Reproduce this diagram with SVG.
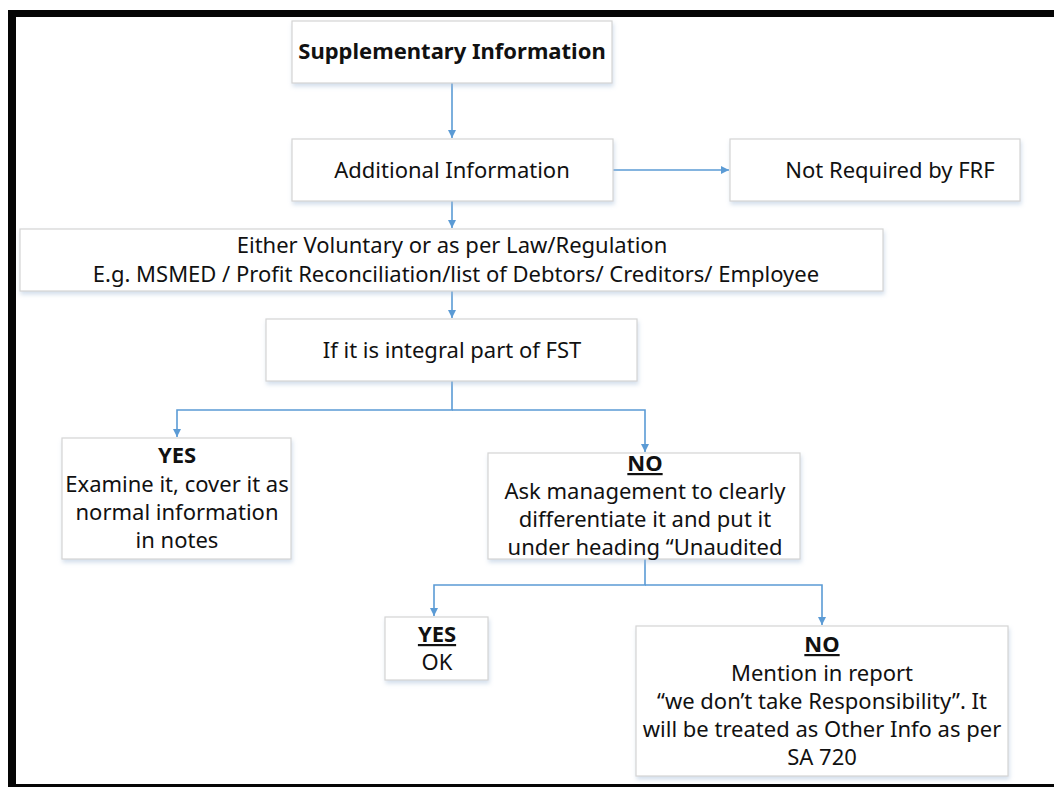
<svg xmlns="http://www.w3.org/2000/svg" width="1054" height="787" viewBox="0 0 1054 787">
<defs>
<style>
.box{fill:#ffffff;stroke:#d4d4d4;stroke-width:1.2;filter:url(#sh)}
.t{font-family:"Noto Sans","Open Sans","DejaVu Sans",sans-serif;font-size:22px;fill:#111;text-anchor:middle}
.b{font-weight:bold}
.u{text-decoration:underline}
.c{fill:none;stroke:#5b9bd5;stroke-width:1.6}
</style>
<filter id="sh" x="-5%" y="-10%" width="110%" height="125%">
<feDropShadow dx="1" dy="3" stdDeviation="2" flood-color="#9fb8d6" flood-opacity="0.45"/>
</filter>
<marker id="ar" viewBox="0 0 10 10" refX="10" refY="5" markerWidth="8" markerHeight="8" markerUnits="userSpaceOnUse" orient="auto">
<path d="M0,0 L10,5 L0,10 z" fill="#5b9bd5"/>
</marker>
</defs>
<rect x="0" y="0" width="1054" height="787" fill="#ffffff"/>
<g id="frame" fill="#050505">
<rect x="8" y="10" width="1046" height="7"/>
<rect x="8" y="10" width="8" height="777"/>
<rect x="8" y="784" width="1046" height="3"/>
</g>
<g id="connectors">
<line class="c" x1="452" y1="83" x2="452" y2="138" marker-end="url(#ar)"/>
<line class="c" x1="613" y1="170" x2="729" y2="170" marker-end="url(#ar)"/>
<line class="c" x1="452" y1="201" x2="452" y2="228" marker-end="url(#ar)"/>
<line class="c" x1="452" y1="291" x2="452" y2="318" marker-end="url(#ar)"/>
<polyline class="c" points="452,381 452,410 177,410 177,437" marker-end="url(#ar)"/>
<polyline class="c" points="452,410 645,410 645,452" marker-end="url(#ar)"/>
<polyline class="c" points="645,559 645,585 434,585 434,616" marker-end="url(#ar)"/>
<polyline class="c" points="645,585 822,585 822,625" marker-end="url(#ar)"/>
</g>
<g id="n1">
<rect class="box" x="292" y="21" width="320" height="62"/>
<text class="t b" x="452" y="59">Supplementary Information</text>
</g>
<g id="n2">
<rect class="box" x="292" y="139" width="321" height="62"/>
<text class="t" x="452" y="178">Additional Information</text>
</g>
<g id="n3">
<rect class="box" x="730" y="139" width="290" height="62"/>
<text class="t" x="890" y="178">Not Required by FRF</text>
</g>
<g id="n4">
<rect class="box" x="20" y="229" width="863" height="62"/>
<text class="t" x="452" y="253">Either Voluntary or as per Law/Regulation</text>
<text class="t" x="456" y="282">E.g. MSMED / Profit Reconciliation/list of Debtors/ Creditors/ Employee</text>
</g>
<g id="n5">
<rect class="box" x="266" y="319" width="371" height="62"/>
<text class="t" x="452" y="358">If it is integral part of FST</text>
</g>
<g id="n6">
<rect class="box" x="62" y="438" width="229" height="121"/>
<text class="t b" x="177" y="463">YES</text>
<text class="t" x="177" y="492">Examine it, cover it as</text>
<text class="t" x="177" y="520">normal information</text>
<text class="t" x="177" y="548">in notes</text>
</g>
<g id="n7">
<rect class="box" x="488" y="453" width="312" height="106"/>
<text class="t b u" x="645" y="471">NO</text>
<text class="t" x="645" y="499">Ask management to clearly</text>
<text class="t" x="645" y="527">differentiate it and put it</text>
<text class="t" x="645" y="555">under heading “Unaudited</text>
</g>
<g id="n8">
<rect class="box" x="385" y="617" width="103" height="63"/>
<text class="t b u" x="437" y="642">YES</text>
<text class="t" x="437" y="670">OK</text>
</g>
<g id="n9">
<rect class="box" x="636" y="626" width="372" height="150"/>
<text class="t b u" x="822" y="652">NO</text>
<text class="t" x="822" y="681">Mention in report</text>
<text class="t" x="822" y="709">“we don’t take Responsibility”. It</text>
<text class="t" x="822" y="737">will be treated as Other Info as per</text>
<text class="t" x="822" y="765">SA 720</text>
</g>
</svg>
